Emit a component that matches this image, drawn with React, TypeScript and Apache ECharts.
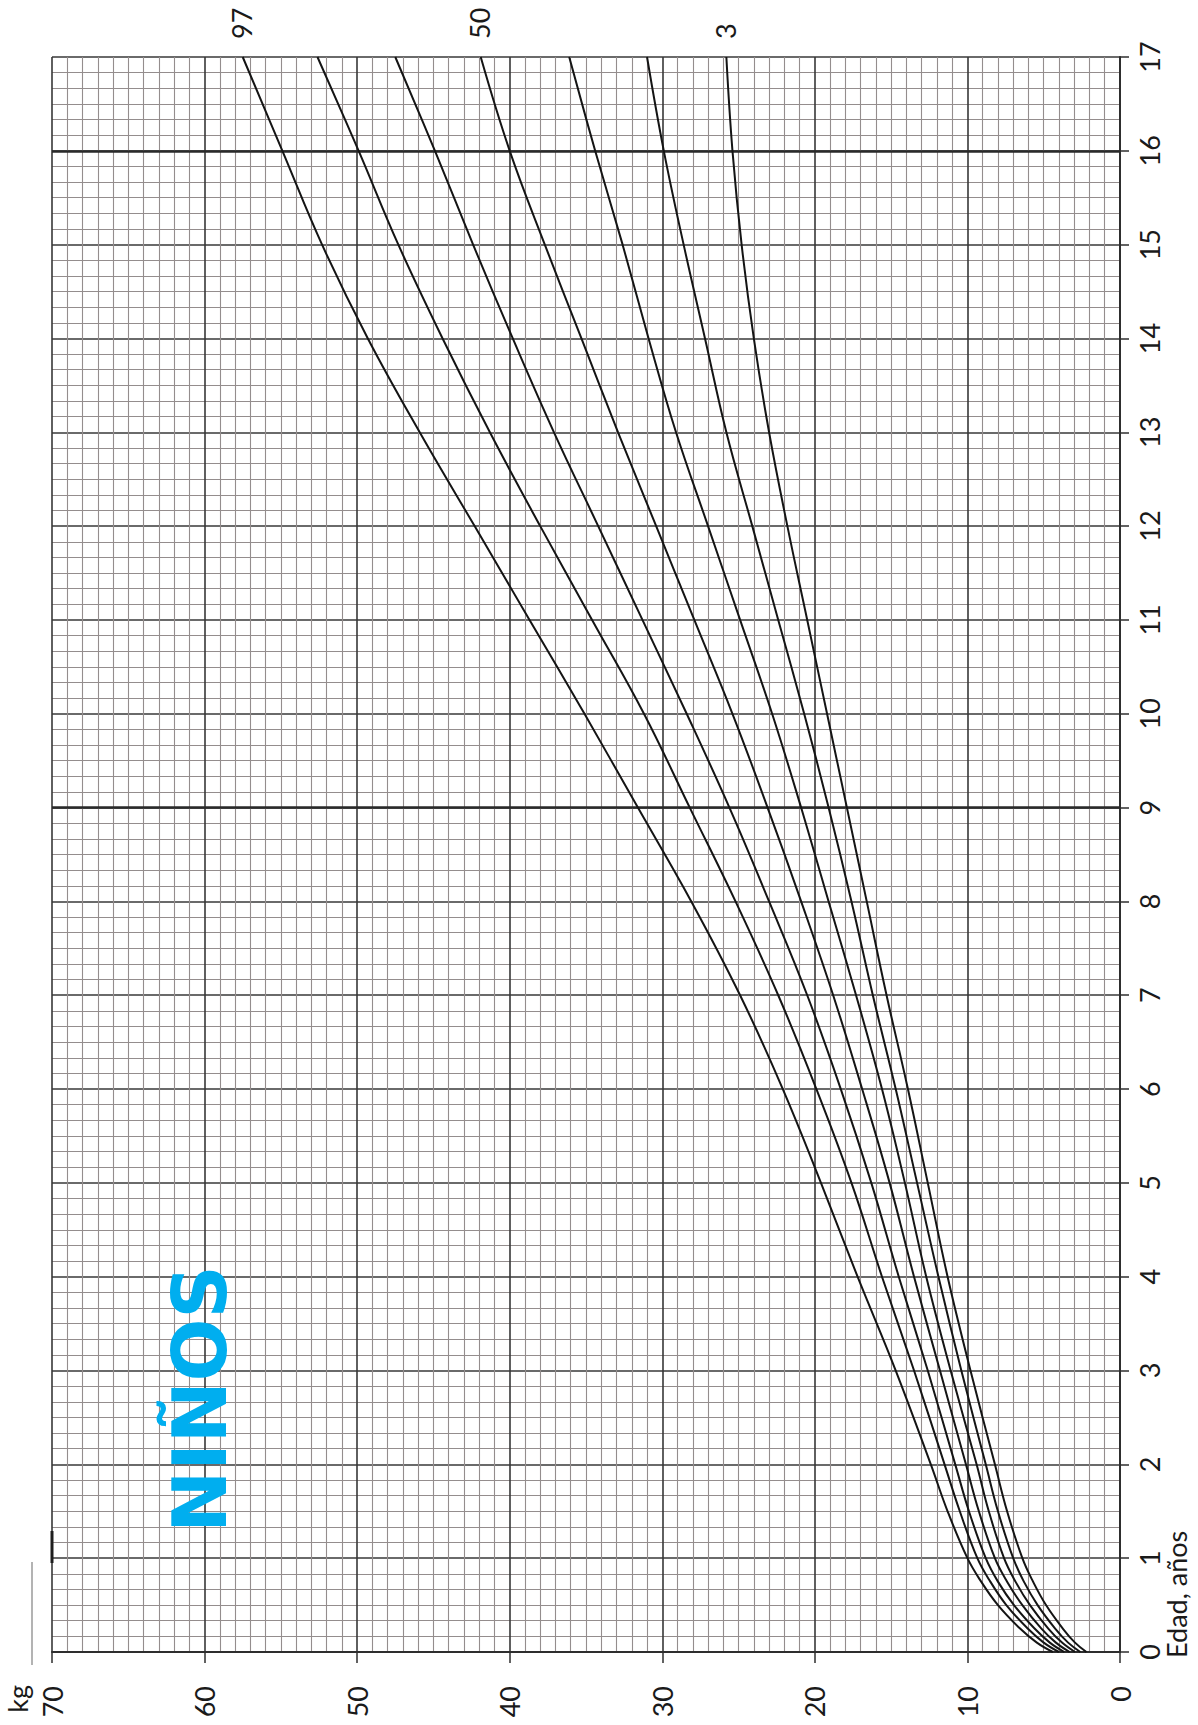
import React, { useEffect, useRef } from "react";
import * as echarts from "echarts";

// Age in years (vertical axis of the rotated chart)
const ages = [0, 0.1, 0.25, 0.5, 0.75, 1, 1.5, 2, 3, 4, 5, 6, 7, 8, 9, 10, 11, 12, 13, 14, 15, 16, 17];
// Weight in kg per percentile
const p97 = [4.4, 5.45, 6.55, 8.0, 9.1, 10.0, 11.3, 12.4, 14.7, 17.2, 19.6, 22.1, 24.9, 28.1, 31.6, 35.1, 38.7, 42.3, 45.9, 49.3, 52.3, 54.9, 57.5];
const p90 = [4.0, 5.0, 6.05, 7.45, 8.5, 9.35, 10.5, 11.5, 13.5, 15.6, 17.6, 19.9, 22.4, 25.2, 28.2, 31.2, 34.6, 38.0, 41.3, 44.4, 47.3, 49.9, 52.6];
const p75 = [3.65, 4.6, 5.6, 6.95, 8.0, 8.8, 9.9, 10.8, 12.6, 14.5, 16.3, 18.3, 20.5, 23.0, 25.6, 28.4, 31.3, 34.2, 37.1, 39.8, 42.4, 44.9, 47.5];
const p50 = [3.3, 4.2, 5.15, 6.4, 7.4, 8.2, 9.25, 10.1, 11.8, 13.5, 15.1, 16.9, 18.8, 20.9, 23.1, 25.4, 27.9, 30.4, 32.9, 35.3, 37.7, 40.0, 41.9];
const p25 = [2.95, 3.8, 4.7, 5.9, 6.85, 7.6, 8.6, 9.4, 11.1, 12.7, 14.1, 15.6, 17.3, 19.1, 20.9, 22.8, 24.9, 27.0, 29.1, 30.9, 32.6, 34.4, 36.1];
const p10 = [2.6, 3.4, 4.25, 5.4, 6.3, 7.0, 8.0, 8.8, 10.4, 11.9, 13.3, 14.7, 16.2, 17.6, 19.1, 20.7, 22.4, 24.1, 25.8, 27.2, 28.6, 29.9, 31.0];
const p3 = [2.2, 2.95, 3.75, 4.85, 5.7, 6.4, 7.4, 8.2, 9.8, 11.3, 12.6, 13.9, 15.3, 16.6, 17.9, 19.2, 20.5, 21.8, 23.0, 24.0, 24.8, 25.4, 25.8];

const percentileNames = ["97", "90", "75", "50", "25", "10", "3"];
const labelledCurves = ["97", "50", "3"];
const thickAgeLines = [9, 16];

const TEXT = "#1a1a1a";
const FONT = "Lato";

export default function App() {
  const ref = useRef<HTMLDivElement>(null);

  useEffect(() => {
    const chart = echarts.init(ref.current as HTMLDivElement, undefined, { renderer: "svg" });
    const curves = [p97, p90, p75, p50, p25, p10, p3];

    const series: any[] = curves.map((arr, i) => ({
      type: "line",
      name: percentileNames[i],
      data: ages.map((a, j) => [arr[j], a]),
      showSymbol: false,
      symbol: "none",
      smooth: 0.4,
      silent: true,
      z: 4,
      lineStyle: { color: "#141414", width: 2 },
    }));
    series.push({
      type: "line",
      data: [],
      silent: true,
      z: 1,
      markLine: {
        silent: true,
        symbol: "none",
        label: { show: false },
        z: 1,
        lineStyle: { color: "#2a2a2a", width: 2.6, type: "solid" },
        data: thickAgeLines.map((a) => ({ yAxis: a })),
      },
    });

    chart.setOption({
      animation: false,
      backgroundColor: "#ffffff",
      grid: {
        left: 52,
        right: 78,
        top: 57,
        bottom: 73,
        containLabel: false,
        outerBoundsMode: "none",
      },
      xAxis: {
        type: "value",
        min: 0,
        max: 70,
        interval: 10,
        inverse: true,
        position: "bottom",
        axisLine: { show: true, onZero: false, lineStyle: { color: "#2e2e2e", width: 2 } },
        axisTick: { show: true, length: 11, lineStyle: { color: "#2e2e2e", width: 1.5 } },
        axisLabel: { rotate: 90, margin: 34, fontSize: 27, color: TEXT, fontFamily: FONT },
        splitLine: { show: true, lineStyle: { color: "#383838", width: 1.6 } },
        minorTick: { show: false, splitNumber: 10 },
        minorSplitLine: { show: true, lineStyle: { color: "#948d8d", width: 1.1 } },
      },
      yAxis: {
        type: "value",
        min: 0,
        max: 17,
        interval: 1,
        position: "right",
        axisLine: { show: true, onZero: false, lineStyle: { color: "#2e2e2e", width: 2 } },
        axisTick: { show: true, length: 9, lineStyle: { color: "#2e2e2e", width: 1.5 } },
        axisLabel: { rotate: 90, margin: 16, fontSize: 27, color: TEXT, fontFamily: FONT },
        splitLine: { show: true, lineStyle: { color: "#383838", width: 1.6 } },
        minorTick: { show: false, splitNumber: 6 },
        minorSplitLine: { show: true, lineStyle: { color: "#948d8d", width: 1.1 } },
      },
      series,
    });

    const graphics: any[] = [];
    labelledCurves.forEach((name) => {
      const idx = percentileNames.indexOf(name);
      const arr = curves[idx];
      const pt = chart.convertToPixel({ gridIndex: 0 }, [arr[arr.length - 1], ages[ages.length - 1]]) as number[];
      graphics.push({
        type: "text",
        x: pt[0] - 1,
        y: 39,
        rotation: Math.PI / 2,
        silent: true,
        style: {
          text: name,
          fill: TEXT,
          fontSize: 27,
          fontFamily: FONT,
          textAlign: "left",
          textVerticalAlign: "middle",
        },
      });
    });
    graphics.push(
      {
        type: "text",
        x: 200,
        y: 1399,
        rotation: Math.PI / 2,
        silent: true,
        style: {
          text: "NIÑOS",
          fill: "#00aeef",
          fontSize: 74,
          fontWeight: "bold",
          fontFamily: "DejaVu Sans",
          textAlign: "center",
          textVerticalAlign: "middle",
        },
      },
      {
        type: "text",
        x: 1176,
        y: 1658,
        rotation: Math.PI / 2,
        silent: true,
        style: {
          text: "Edad, años",
          fill: TEXT,
          fontSize: 27,
          fontFamily: FONT,
          textAlign: "left",
          textVerticalAlign: "middle",
        },
      },
      {
        type: "text",
        x: 17,
        y: 1685,
        rotation: Math.PI / 2,
        silent: true,
        style: {
          text: "kg",
          fill: TEXT,
          fontSize: 27,
          fontFamily: FONT,
          textAlign: "right",
          textVerticalAlign: "middle",
        },
      },
      {
        type: "line",
        silent: true,
        shape: { x1: 32, y1: 1562, x2: 32, y2: 1665 },
        style: { stroke: "#9a9a9a", lineWidth: 1.5 },
      },
      {
        type: "line",
        silent: true,
        shape: { x1: 52, y1: 1531, x2: 52, y2: 1563 },
        style: { stroke: "#1e1e1e", lineWidth: 3 },
      }
    );
    chart.setOption({ graphic: graphics });

    return () => {
      chart.dispose();
    };
  }, []);

  return (
    <div
      ref={ref}
      style={{ position: "absolute", left: 0, top: 0, width: 1198, height: 1725, background: "#ffffff" }}
    />
  );
}
